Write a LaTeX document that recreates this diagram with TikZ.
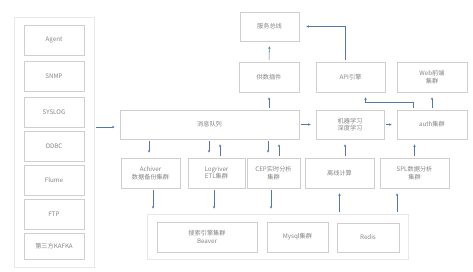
\documentclass[tikz,border=0pt]{standalone}
\usepackage{fontspec}
\setmainfont{Noto Sans CJK SC}
\usetikzlibrary{arrows.meta, positioning, calc}
\definecolor{cInk}{HTML}{858585}
\definecolor{cLine}{HTML}{CFCFCF}
\definecolor{cGrp}{HTML}{E8E8E8}
\definecolor{cFlow}{HTML}{5578A6}
\tikzset{
  box/.style={rectangle, draw=cLine, line width=0.6pt, fill=white, align=center,
              font=\fontsize{6.2}{7.6}\selectfont, text=cInk, inner sep=1pt,
              minimum width=60pt, minimum height=30pt},
  grp/.style={rectangle, draw=cGrp, line width=0.6pt, inner sep=0pt},
  flow/.style={-{Stealth[length=2.6pt, width=2.4pt]}, line width=0.55pt, draw=cFlow,
               shorten <=1.5pt, shorten >=5pt},
}

\begin{document}
\begin{tikzpicture}[x=1pt, y=-1pt]
  \useasboundingbox (0,0) rectangle (473,272);

  % ---- data sources
  \node[grp, minimum width=80pt, minimum height=250pt] (src) at (54,142) {};
  \foreach \n/\y/\t in {s1/40.5/Agent, s2/76.5/SNMP, s3/112/SYSLOG, s4/146.5/ODBC,
                        s5/180.5/Flume, s6/214/FTP}
    \node[box] (\n) at (54,\y) {\t};
  \node[box, minimum height=26pt] (s7) at (54,246.5) {第三方KAFKA};

  % ---- upper layer
  \node[box, minimum width=179pt, minimum height=29pt] (mq) at (209.5,124.5) {消息队列};
  \node[box, minimum width=59pt, minimum height=29pt] (bus) at (269.5,26.5) {服务总线};
  \node[box] (plug) at (269,77) {供数插件};
  \node[box, minimum width=69pt] (api) at (350.5,77) {API引擎};
  \node[box, minimum width=70pt] (web) at (432,77) {Web前端\\集群};
  \node[box, minimum width=68pt, minimum height=29pt] (ml) at (350,124.5) {机器学习\\深度学习};
  \node[box, minimum width=70pt, minimum height=29pt] (auth) at (432,124.5) {auth集群};

  % ---- processing row
  \node[box, minimum width=59pt] (arch) at (150.5,173) {Achiver\\数据备份集群};
  \node[box, minimum width=57pt] (logr) at (216.5,173) {Logriver\\ETL集群};
  \node[box, minimum width=53pt] (cep) at (273.5,173) {CEP实时分析\\集群};
  \node[box, minimum width=69pt] (off) at (339.5,173) {离线计算};
  \node[box, minimum width=69pt] (spl) at (414.5,173) {SPL数据分析\\集群};

  % ---- storage
  \node[grp, minimum width=261pt, minimum height=45pt] (store) at (277.5,236.5) {};
  \node[box, minimum width=100pt] (beaver) at (207,237) {搜索引擎集群\\Beaver};
  \node[box, minimum width=61pt] (mysql) at (297.5,237) {Mysql集群};
  \node[box, minimum width=62pt, minimum height=29pt] (redis) at (368,237.5) {Redis};

  % ---- arrows
  \draw[flow] (src.east |- 0,127) -- (mq.west |- 0,127);
  \draw[flow] (plug.south |- mq.north) -- (plug.south);
  \draw[flow] (plug.north) -- (bus.south);
  \draw[flow, shorten >=7pt] ([xshift=-5pt]api.north) |- (bus.east);
  \draw[flow] ([xshift=-19pt]auth.north) -- ++(0,-7) -| ([xshift=15pt]api.south);
  \draw[flow] (auth.north) -- (web.south);
  \draw[flow] (mq.east) -- (ml.west);
  \draw[flow] (ml.east) -- (auth.west);
  \draw[flow] ([xshift=-1.5pt]arch.north |- mq.south) -- ([xshift=-1.5pt]arch.north);
  \draw[flow] ([xshift=-7.5pt]logr.north |- mq.south) -- ([xshift=-7.5pt]logr.north);
  \draw[flow] ([xshift=3.5pt]logr.north) -- ([xshift=3.5pt]logr.north |- mq.south);
  \draw[flow] ([xshift=-5.5pt]cep.north |- mq.south) -- ([xshift=-5.5pt]cep.north);
  \draw[flow] ([xshift=5.5pt]cep.north) -- ([xshift=5.5pt]cep.north |- mq.south);
  \draw[flow] ([xshift=5.5pt]off.north) -- ([xshift=5.5pt]off.north |- ml.south);
  \draw[flow] (spl.north) -- (spl.north |- auth.south);
  \draw[flow] ([xshift=2.5pt]arch.south) -- ([xshift=2.5pt]arch.south |- store.north);
  \draw[flow] ([xshift=-2.5pt]logr.south) -- ([xshift=-2.5pt]logr.south |- store.north);
  \draw[flow] ([xshift=-2.5pt]cep.south) -- ([xshift=-2.5pt]cep.south |- store.north);
  \draw[flow] (off.south |- store.north) -- (off.south);
  \draw[flow] ([xshift=-17.5pt]spl.south |- store.north) -- ([xshift=-17.5pt]spl.south);
\end{tikzpicture}
\end{document}
